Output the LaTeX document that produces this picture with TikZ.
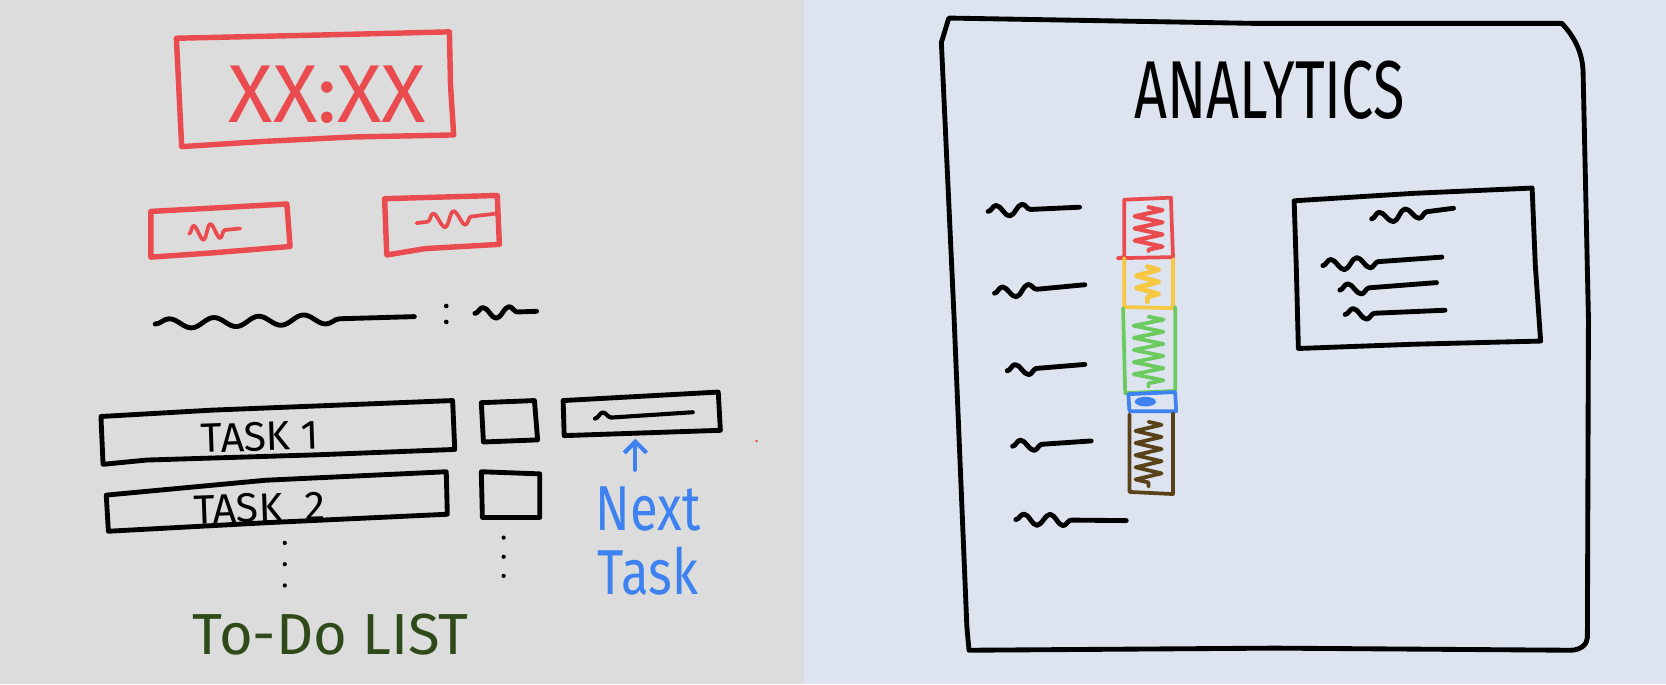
\documentclass[tikz,border=0pt]{standalone}
\usepackage{fontspec}
\setmainfont{Fira Sans}
\usetikzlibrary{arrows.meta,decorations.pathmorphing}
\definecolor{padgray}{HTML}{DCDCDC}
\definecolor{padblue}{HTML}{DDE4F0}
\definecolor{inkred}{HTML}{E94B4F}
\definecolor{inkblue}{HTML}{3D82F0}
\definecolor{inkgreen}{HTML}{2F4A19}
\definecolor{baryellow}{HTML}{F6C844}
\definecolor{bargreen}{HTML}{6CCB5F}
\definecolor{barbrown}{HTML}{5A4218}

\begin{document}
\begin{tikzpicture}[x=0.02cm, y=-0.02cm, line join=round, line cap=round,
  pen/.style={line width=2.6pt},
  redpen/.style={line width=2.9pt, inkred},
  scrawl/.style={decorate, decoration={snake, amplitude=3pt, segment length=14pt, post length=#1}},
  scrawl/.default=4pt,
  scribble/.style={decorate, decoration={zigzag, amplitude=#1, segment length=6.5pt}},
  bigtext/.style={font=\fontsize{44}{44}\selectfont},
  tasktext/.style={font=\fontsize{22}{22}\selectfont}]
  \useasboundingbox (0,0) rectangle (1568,644);
  % Two panels
  \fill[padgray] (0,0) rectangle (757,644);
  \fill[padblue] (757,0) rectangle (1568,644);

  % Clock
  \draw[redpen] (166,36) -- (300,33) -- (423,30) -- (424,80) -- (427,127)
    -- (330,129) -- (250,133) -- (171,138) -- cycle;
  \node[bigtext, text=inkred] (clock) at (308,89) {XX:XX};
  % Small red boxes
  \draw[redpen] (142,199) -- (270,192) -- (273,232) -- (200,238) -- (142,242) -- cycle;
  \draw[redpen, line width=2pt, decorate, decoration={snake, amplitude=4pt, segment length=9pt, post length=8pt}]
    (178,220) -- (226,215);
  \draw[redpen] (362,187) -- (468,184) -- (470,230) -- (400,234) -- (364,240) -- cycle;
  \draw[redpen, line width=2pt, decorate, decoration={snake, amplitude=4pt, segment length=11pt, pre length=6pt, post length=10pt}]
    (392,210) -- (467,201);
  % Wavy line with colon
  \draw[pen, decorate, decoration={snake, amplitude=2.6pt, segment length=24pt, post length=30pt}] (146,305) -- (390,298);
  \fill (420,288) circle (2.2);
  \fill (420,303) circle (2.2);
  \draw[pen, scrawl=10pt] (447,295) -- (505,293);

  % Tasks
  \draw[pen] (95,392) -- (200,386) -- (426,377) -- (428,423) -- (300,428)
    -- (138,433) -- (97,437) -- cycle;
  \node[tasktext, rotate=2] (task1) at (245,411) {TASK 1};
  \draw[pen] (100,466) -- (250,452) -- (420,444) -- (421,484) -- (250,492)
    -- (102,500) -- cycle;
  \node[tasktext, rotate=2] (task2) at (244,478) {TASK\ \ 2};
  \draw[pen] (453,379) -- (503,377) -- (506,414) -- (455,416) -- cycle;
  \draw[pen] (453,444) -- (508,446) -- (508,487) -- (454,487) -- cycle;
  % Next task box
  \draw[pen] (530,377) -- (676,369) -- (678,405) -- (531,410) -- cycle;
  \draw[pen, line width=2.2pt, scrawl=40pt] (560,394) -- (652,388);
  \coordinate (nextbot) at (598,413);
  % Dots
  \fill (268,511) circle (2);
  \fill (268,531) circle (2);
  \fill (268,551) circle (2);
  \fill (474,506) circle (2);
  \fill (474,524) circle (2);
  \fill (474,542) circle (2);
  \fill[inkred] (712,415) circle (1.3);
  % Labels
  \node[text=inkblue, font=\fontsize{34}{34}\selectfont, align=center, inner sep=0pt,
    xscale=0.8, anchor=north] (nexttxt) at (610,458) {Next\\Task};
  \draw[inkblue, line width=2.2pt, -{Straight Barb[length=6pt]}, shorten <=9pt]
    (nexttxt.north -| nextbot) -- (nextbot);
  \node[text=inkgreen, font=\fontsize{31}{31}\selectfont] (todo) at (311,597) {To-Do LIST};

  % Analytics page
  \draw[pen] (893,17) -- (1180,22) -- (1470,22) .. controls (1482,35) and (1490,50) .. (1490,70)
    -- (1495,300) -- (1494,600) .. controls (1494,606) and (1488,612) .. (1478,612)
    -- (1200,610) -- (912,612) -- (910,590) -- (898,300) -- (886,40) -- cycle;
  \node[bigtext, xscale=0.7] (title) at (1195,85) {ANALYTICS};
  % Legend entries
  \draw[pen, scrawl=24pt] (930,199) -- (1016,195);
  \draw[pen, scrawl=24pt] (936,276) -- (1021,268);
  \draw[pen, scrawl=20pt] (948,349) -- (1021,343);
  \draw[pen, scrawl=20pt] (953,420) -- (1027,415);
  \draw[pen, scrawl=28pt] (956,489) -- (1060,490);
  % Stacked bar
  \draw[inkred, line width=2.2pt, scribble=7.5pt] (1081,195) -- (1081,236);
  \draw[inkred, line width=2pt] (1058,188) -- (1102,186) -- (1104,242) -- (1052,243) -- (1058,242) -- cycle;
  \draw[baryellow, line width=2.6pt, scribble=6pt] (1080,251) -- (1080,284);
  \draw[baryellow, line width=2pt] (1058,243) -- (1058,289) -- (1104,290) -- (1104,244);
  \draw[bargreen, line width=2pt, scribble=8pt] (1081,298) -- (1081,364);
  \draw[bargreen, line width=2pt] (1057,290) -- (1059,370) -- (1106,368) -- (1106,289);
  \fill[inkblue] (1078,378) ellipse (10 and 4.5);
  \draw[inkblue, line width=2pt] (1062,371) -- (1106,369) -- (1107,387) -- (1063,387) -- cycle;
  \draw[barbrown, line width=2pt, scribble=7pt] (1081,397) -- (1081,458);
  \draw[barbrown, line width=2pt] (1063,390) -- (1063,463) -- (1104,465) -- (1104,389);
  % Info card
  \draw[pen] (1218,189) -- (1330,182) -- (1442,177) -- (1445,250) -- (1450,321)
    -- (1330,324) -- (1222,328) -- (1220,250) -- cycle;
  \draw[pen, scrawl=8pt] (1291,206) -- (1368,196);
  \draw[pen, scrawl=34pt] (1245,250) -- (1357,242);
  \draw[pen, scrawl=30pt] (1261,273) -- (1352,266);
  \draw[pen, scrawl=36pt] (1266,296) -- (1360,292);
\end{tikzpicture}
\end{document}
